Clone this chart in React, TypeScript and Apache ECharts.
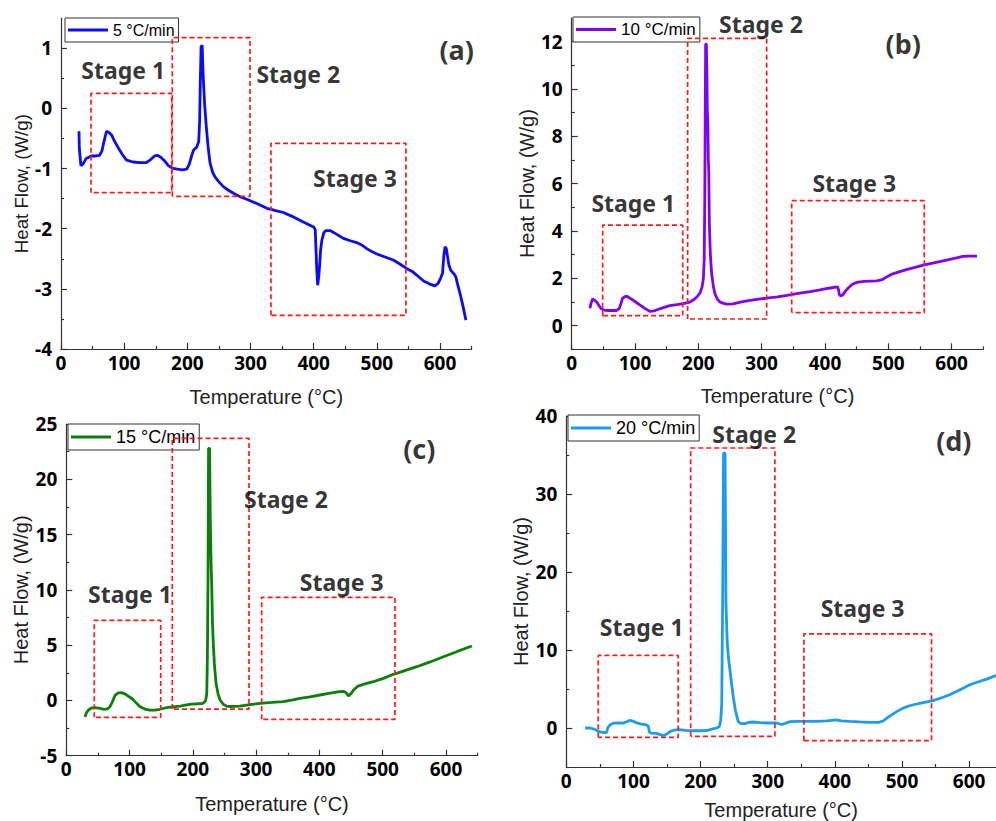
import React, { useEffect, useRef } from "react";
import * as echarts from "echarts";

// ---------------- data ----------------
const tempTicks = [0, 100, 200, 300, 400, 500, 600];
const tempMinor650 = [50, 150, 250, 350, 450, 550, 650];
const tempMinor640 = [50, 150, 250, 350, 450, 550];

const yTicksA = [-4, -3, -2, -1, 0, 1];
const yMinorA = [-3.5, -2.5, -1.5, -0.5, 0.5];
const yTicksB = [0, 2, 4, 6, 8, 10, 12];
const yMinorB = [-1, 1, 3, 5, 7, 9, 11];
const yTicksC = [-5, 0, 5, 10, 15, 20, 25];
const yMinorC = [-2.5, 2.5, 7.5, 12.5, 17.5, 22.5];
const yTicksD = [0, 10, 20, 30, 40];
const yMinorD = [-5, 5, 15, 25, 35];

const seriesNames = ["5 °C/min", "10 °C/min", "15 °C/min", "20 °C/min"];

const curve5 = [
  [28.5, -0.38], [29, -0.66], [31.5, -0.95], [35, -0.92], [40, -0.83], [48, -0.79], [55, -0.79], [61, -0.78],
  [65, -0.7], [68, -0.55], [72, -0.38], [76, -0.4], [80, -0.44], [85, -0.55], [91, -0.66], [98, -0.78],
  [104, -0.86], [114, -0.89], [125, -0.9], [135, -0.9], [142, -0.85], [148, -0.79], [153, -0.78], [158, -0.81],
  [163, -0.86], [170, -0.95], [176, -0.99], [184, -1.01], [192, -1.02], [199, -1.01], [203, -0.93], [207, -0.78],
  [210, -0.69], [213, -0.66], [215, -0.64], [218, -0.55], [219.5, -0.2], [220.5, 0.42], [221.8, 1.03], [223.5, 1.05],
  [224.5, 0.7], [225.5, 0.45], [227.5, 0.05], [230, -0.3], [233, -0.65], [236, -0.91], [240, -1.06], [244, -1.14],
  [250, -1.22], [257, -1.3], [265, -1.36], [273, -1.41], [284, -1.47], [294, -1.51], [310, -1.58], [326, -1.66],
  [340, -1.7], [352, -1.73], [365, -1.79], [378, -1.86], [390, -1.92], [400, -1.97], [402.5, -2.02], [403.5, -2.3],
  [405, -2.7], [406.3, -2.94], [408, -2.8], [409.5, -2.6], [411, -2.35], [413, -2.19], [416, -2.07], [419, -2.03],
  [426, -2.03], [436, -2.09], [447, -2.16], [458, -2.2], [468, -2.23], [476, -2.27], [484, -2.33], [492, -2.38],
  [500, -2.42], [513, -2.47], [526, -2.52], [537, -2.59], [547, -2.66], [556, -2.71], [563, -2.77], [574, -2.87],
  [584, -2.92], [592, -2.95], [597, -2.91], [601, -2.82], [604, -2.74], [606, -2.45], [608, -2.3], [610, -2.33],
  [612, -2.47], [614, -2.6], [617, -2.69], [622, -2.75], [625, -2.8], [628, -2.93], [632, -3.09], [636, -3.27],
  [641, -3.52],
];

const curve10 = [
  [29, 0.73], [30, 0.9], [33, 1.13], [36, 1.08], [39.5, 1.0], [43, 0.85], [47, 0.71], [51, 0.66], [55, 0.64],
  [63, 0.64], [71, 0.64], [75, 0.72], [78, 0.95], [80, 1.14], [84, 1.23], [87, 1.24], [92, 1.16], [100, 1.02],
  [108, 0.87], [116, 0.72], [124, 0.6], [130, 0.62], [136, 0.68], [146, 0.77], [155, 0.85], [166, 0.89],
  [176, 0.93], [185, 0.98], [192, 1.08], [198, 1.22], [203, 1.4], [206, 1.65], [208, 2.0], [209.3, 2.8],
  [210.2, 5.5], [210.8, 8.5], [211.5, 11.9], [212.7, 11.9], [213.6, 10.5], [214.2, 9.1], [215, 8.6], [215.8, 7.0],
  [216.5, 6.5], [217.4, 4.3], [219, 3.0], [221, 2.2], [223.5, 1.7], [226, 1.37], [230, 1.12], [234, 1.0],
  [240, 0.94], [245, 0.91], [255, 0.92], [268, 1.0], [282, 1.07], [295, 1.12], [308, 1.16], [325, 1.22],
  [340, 1.28], [360, 1.37], [377, 1.44], [392, 1.51], [406, 1.58], [420, 1.64], [421.5, 1.5], [422.5, 1.32],
  [425, 1.25], [428, 1.3], [432, 1.45], [437, 1.6], [444, 1.76], [452, 1.84], [462, 1.87], [472, 1.88],
  [482, 1.89], [490, 1.94], [497, 2.05], [506, 2.18], [518, 2.28], [530, 2.38], [545, 2.48], [555, 2.56],
  [570, 2.64], [585, 2.73], [597, 2.8], [608, 2.86], [618, 2.93], [628, 2.94], [640, 2.94],
];

const curve15 = [
  [29.5, -1.5], [32, -1.1], [35, -0.87], [40, -0.68], [46, -0.66], [53, -0.72], [60, -0.8], [65, -0.76],
  [69, -0.57], [73, -0.1], [77, 0.45], [82, 0.68], [87, 0.7], [93, 0.58], [99, 0.35], [104, 0.15], [110, -0.2],
  [116, -0.55], [124, -0.78], [132, -0.88], [140, -0.88], [148, -0.8], [158, -0.66], [168, -0.58], [180, -0.51],
  [190, -0.4], [198, -0.33], [208, -0.3], [216, -0.26], [220, -0.05], [222, 0.6], [223, 4.0], [224, 11.2],
  [224.8, 22.8], [226.5, 22.8], [227.5, 16.5], [228.2, 14.2], [229, 12.0], [229.8, 10.6], [231, 7.0], [232.3, 5.2],
  [234, 3.3], [236.6, 1.55], [240, 0.55], [243, 0.04], [248, -0.35], [253, -0.51], [260, -0.55], [274, -0.51],
  [290, -0.38], [306, -0.26], [325, -0.18], [343, -0.1], [358, 0.05], [369, 0.19], [385, 0.33], [401, 0.49],
  [417, 0.65], [432, 0.79], [438, 0.82], [442, 0.7], [446, 0.4], [450, 0.62], [454, 0.94], [461, 1.3],
  [472, 1.5], [485, 1.69], [500, 1.97], [517, 2.36], [535, 2.7], [554, 3.05], [575, 3.48], [596, 3.95],
  [618, 4.43], [641, 4.92],
];

const curve20 = [
  [28, 0.0], [35, 0.0], [40, -0.1], [45, -0.3], [50, -0.5], [56, -0.58], [60, -0.58], [62, 0.1], [66, 0.45],
  [70, 0.62], [78, 0.64], [85, 0.62], [90, 0.8], [95, 0.98], [100, 0.85], [105, 0.65], [112, 0.5], [119, 0.4],
  [122, 0.25], [124, -0.55], [126, -0.65], [134, -0.7], [140, -0.85], [144.5, -0.99], [150, -0.75], [155, -0.45],
  [160, -0.28], [168, -0.22], [178, -0.3], [190, -0.35], [200, -0.35], [210, -0.32], [218, -0.12], [224, 0.0],
  [228, 0.2], [230, 1.0], [231.5, 3.0], [233, 18.0], [234.2, 35.3], [236.5, 35.2], [237.2, 25.0], [237.8, 16.0],
  [238.7, 13.5], [239.7, 10.9], [241.5, 9.0], [243.7, 7.47], [246, 5.8], [248.6, 4.05], [252, 2.2], [256, 0.85],
  [260, 0.55], [266, 0.55], [272, 0.72], [278, 0.77], [288, 0.7], [298, 0.64], [313, 0.64], [320.7, 0.45],
  [326, 0.6], [333, 0.82], [345, 0.85], [360, 0.85], [373, 0.85], [388, 0.92], [402, 1.04], [410, 0.92],
  [422, 0.85], [437, 0.78], [452, 0.72], [465, 0.72], [472, 0.9], [477, 1.25], [484, 1.65], [492, 2.1],
  [501.7, 2.55], [510, 2.82], [517, 2.98], [530, 3.22], [546, 3.5], [558, 3.85], [571, 4.26], [585, 4.85],
  [601, 5.54], [613, 5.9], [626, 6.27], [640, 6.73],
];

// stage boxes: [left T, right T, bottom HF, top HF]
const boxes5 = [[47.5, 175.2, -1.4, 0.25], [176.2, 299.2, -1.46, 1.18], [332.4, 546, -3.44, -0.58]];
const boxes10 = [[48.9, 175.3, 0.42, 4.25], [183.1, 307.9, 0.28, 12.14], [347.4, 556.8, 0.55, 5.28]];
const boxes15 = [[44.2, 149.2, -1.53, 7.24], [167.5, 288.7, -0.78, 23.7], [308.7, 519.4, -1.71, 9.32]];
const boxes20 = [[47.6, 166.7, -1.2, 9.3], [185.2, 310.7, -1.07, 35.9], [353.9, 544, -1.63, 12.07]];

// stage labels: [T, HF, text]
const stages5 = [[98.6, 0.64, "Stage 1"], [375.7, 0.57, "Stage 2"], [465.4, -1.16, "Stage 3"]];
const stages10 = [[97.3, 5.17, "Stage 1"], [298.9, 12.75, "Stage 2"], [446.3, 6.02, "Stage 3"]];
const stages15 = [[100.7, 9.59, "Stage 1"], [347.2, 18.18, "Stage 2"], [435.2, 10.73, "Stage 3"]];
const stages20 = [[112.3, 12.93, "Stage 1"], [279.9, 37.7, "Stage 2"], [441.3, 15.36, "Stage 3"]];

const tags5 = [[626.4, 0.98, "(a)"]];
const tags10 = [[523.6, 11.93, "(b)"]];
const tags15 = [[557.8, 22.8, "(c)"]];
const tags20 = [[577.2, 36.8, "(d)"]];

// ---------------- layout / style ----------------
const FONT = "Liberation Sans";
const BOLD_FONT = "Noto Sans";
const AXIS_COLOR = "#333";

const panels = [
  {
    name: seriesNames[0], curve: curve5, color: "#0a0aff", boxes: boxes5, stages: stages5, tags: tags5,
    grid: { left: 61, top: 18.3, width: 410.6, height: 330.7 },
    xMax: 650, xMinor: tempMinor650, yMin: -4, yMax: 1.5, yTicks: yTicksA, yMinor: yMinorA,
    legend: { left: 65, top: 18, fontSize: 16 }, yNameSize: 18.7, yNameGap: 29, xNameGap: 38,
  },
  {
    name: seriesNames[1], curve: curve10, color: "#8000ff", boxes: boxes10, stages: stages10, tags: tags10,
    grid: { left: 571.7, top: 18, width: 411.6, height: 331.3 },
    xMax: 650, xMinor: tempMinor650, yMin: -1, yMax: 13, yTicks: yTicksB, yMinor: yMinorB,
    legend: { left: 573, top: 17, fontSize: 17 }, yNameSize: 20, yNameGap: 35, xNameGap: 37,
  },
  {
    name: seriesNames[2], curve: curve15, color: "#0a800a", boxes: boxes15, stages: stages15, tags: tags15,
    grid: { left: 66.3, top: 424, width: 411.3, height: 331.7 },
    xMax: 650, xMinor: tempMinor650, yMin: -5, yMax: 25, yTicks: yTicksC, yMinor: yMinorC,
    legend: { left: 68, top: 424, fontSize: 18 }, yNameSize: 20, yNameGap: 35, xNameGap: 38,
  },
  {
    name: seriesNames[3], curve: curve20, color: "#1a9cf2", boxes: boxes20, stages: stages20, tags: tags20,
    grid: { left: 566.3, top: 416, width: 429.9, height: 351.4 },
    xMax: 640, xMinor: tempMinor640, yMin: -5, yMax: 40, yTicks: yTicksD, yMinor: yMinorD,
    legend: { left: 568, top: 415, fontSize: 18 }, yNameSize: 20, yNameGap: 35, xNameGap: 33,
  },
];

const tickLabelStyle = { fontSize: 19, fontWeight: "bold", color: "#000", fontFamily: BOLD_FONT };

function buildOption() {
  const grid: any[] = [];
  const xAxis: any[] = [];
  const yAxis: any[] = [];
  const series: any[] = [];
  const legend: any[] = [];

  panels.forEach((p, i) => {
    grid.push({ ...p.grid, containLabel: false });
    const xi = xAxis.length;
    xAxis.push({
      type: "value", gridIndex: i, min: 0, max: p.xMax, position: "bottom",
      axisLine: { show: true, onZero: false, lineStyle: { color: AXIS_COLOR, width: 1.2 } },
      axisTick: { show: true, inside: true, length: 6, customValues: tempTicks, lineStyle: { color: AXIS_COLOR, width: 1.2 } },
      axisLabel: { show: true, customValues: tempTicks, margin: 4, ...tickLabelStyle },
      splitLine: { show: false },
      name: "Temperature (°C)", nameLocation: "middle", nameGap: p.xNameGap,
      nameTextStyle: { fontSize: 20, color: "#222", fontFamily: FONT },
    });
    xAxis.push({
      type: "value", gridIndex: i, min: 0, max: p.xMax, position: "bottom",
      axisLine: { show: false, onZero: false },
      axisTick: { show: true, inside: true, length: 3, customValues: p.xMinor, lineStyle: { color: AXIS_COLOR, width: 1.2 } },
      axisLabel: { show: false }, splitLine: { show: false },
    });
    const yi = yAxis.length;
    yAxis.push({
      type: "value", gridIndex: i, min: p.yMin, max: p.yMax, position: "left",
      axisLine: { show: true, onZero: false, lineStyle: { color: AXIS_COLOR, width: 1.2 } },
      axisTick: { show: true, inside: true, length: 6, customValues: p.yTicks, lineStyle: { color: AXIS_COLOR, width: 1.2 } },
      axisLabel: { show: true, customValues: p.yTicks, margin: 9, ...tickLabelStyle },
      splitLine: { show: false },
      name: "Heat Flow, (W/g)", nameLocation: "middle", nameGap: p.yNameGap,
      nameTextStyle: { fontSize: p.yNameSize, color: "#222", fontFamily: FONT },
    });
    yAxis.push({
      type: "value", gridIndex: i, min: p.yMin, max: p.yMax, position: "left",
      axisLine: { show: false, onZero: false },
      axisTick: { show: true, inside: true, length: 3, customValues: p.yMinor, lineStyle: { color: AXIS_COLOR, width: 1.2 } },
      axisLabel: { show: false }, splitLine: { show: false },
    });

    series.push({
      type: "line", name: p.name, xAxisIndex: xi, yAxisIndex: yi, data: p.curve,
      symbol: "none", showSymbol: false, smooth: false,
      lineStyle: { color: p.color, width: 2.8 }, itemStyle: { color: p.color }, z: 2,
    });
    p.boxes.forEach((b, k) => {
      const [l, r, bot, top] = b;
      series.push({
        type: "line", name: `box-${i}-${k}`, xAxisIndex: xi, yAxisIndex: yi,
        data: [[l, bot], [l, top], [r, top], [r, bot], [l, bot]],
        symbol: "none", showSymbol: false, silent: true,
        lineStyle: { color: "#ff1a1a", width: 1.7, type: [5, 3] }, z: 8,
      });
    });
    series.push({
      type: "scatter", name: `stage-${i}`, xAxisIndex: xi, yAxisIndex: yi, data: p.stages,
      symbolSize: 1, itemStyle: { color: "rgba(0,0,0,0)" }, silent: true, z: 9,
      label: {
        show: true, position: "inside", formatter: (q: any) => q.data[2],
        fontSize: 23, fontWeight: "bold", color: "#000", fontFamily: BOLD_FONT,
      },
    });
    series.push({
      type: "scatter", name: `tag-${i}`, xAxisIndex: xi, yAxisIndex: yi, data: p.tags,
      symbolSize: 1, itemStyle: { color: "rgba(0,0,0,0)" }, silent: true, z: 9,
      label: {
        show: true, position: "inside", formatter: (q: any) => q.data[2],
        fontSize: 27, fontWeight: "bold", color: "#000", fontFamily: BOLD_FONT,
      },
    });

    legend.push({
      data: [p.name], left: p.legend.left, top: p.legend.top, orient: "horizontal",
      borderColor: "#333", borderWidth: 1, borderRadius: 0, backgroundColor: "#fff",
      padding: [4, 4, 4, 3], itemWidth: 40, itemHeight: 3, icon: "rect", itemGap: 0,
      selectedMode: false, z: 5,
      textStyle: { fontSize: p.legend.fontSize, color: "#000", fontFamily: FONT },
    });
  });

  return {
    animation: false,
    backgroundColor: "#fff",
    textStyle: { fontFamily: FONT },
    grid, xAxis, yAxis, series, legend,
  };
}

export default function App() {
  const ref = useRef<HTMLDivElement>(null);
  useEffect(() => {
    if (!ref.current) return;
    const chart = echarts.init(ref.current, undefined, { renderer: "svg" });
    chart.setOption(buildOption() as any);
    return () => chart.dispose();
  }, []);
  return (
    <div
      ref={ref}
      style={{ position: "absolute", left: 0, top: 0, width: 996, height: 821, background: "#fff" }}
    />
  );
}
